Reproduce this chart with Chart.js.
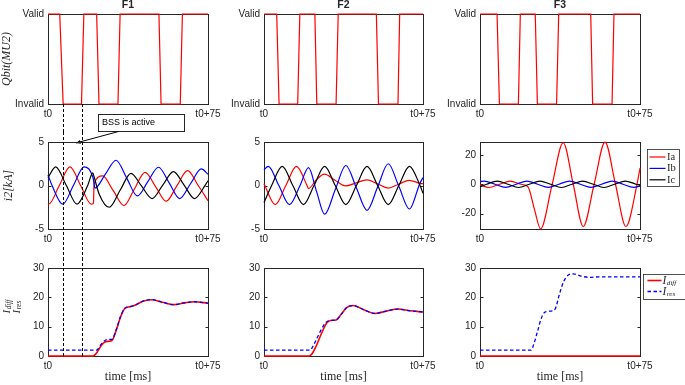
<!DOCTYPE html>
<html>
<head>
<meta charset="utf-8">
<script src="https://cdn.jsdelivr.net/npm/chart.js@4.4.0/dist/chart.umd.min.js"></script>
<style>
  body { margin: 0; background: #fff; width: 685px; height: 385px; position: relative; overflow: hidden; }
  canvas { position: absolute; }
</style>
</head>
<body>
<script>
// ---- axis labels / names ----
const xTicks = [0, 75];
const xTickLabels = ['t0', 't0+75'];
const qbitTicks = [0, 1];
const qbitTickLabels = ['Invalid', 'Valid'];
const kaTicksSmall = [-5, 0, 5];
const kaTicksLarge = [-20, 0, 20];
const resTicks = [0, 10, 20, 30];
const faultNames = ['F1', 'F2', 'F3'];
const phaseNames = ['Ia', 'Ib', 'Ic'];
const diffNames = ['I_{diff}', 'I_{res}'];
const bssWindow = [7.2, 15.8]; // ms, dashed markers under F1

// ---- Qbit(MU2) state, [ms, 1 = Valid / 0 = Invalid] ----
const qbitF1 = [[0,1],[5.5,1],[7.1,0],[15.7,0],[16.8,1],[22.8,1],[23.9,0],[32.8,0],[33.8,1],[52,1],[53,0],[62,0],[63,1],[75,1]];
const qbitF2 = [[0,1],[6,1],[7.1,0],[15.9,0],[16.9,1],[24,1],[24.9,0],[34,0],[35,1],[53,1],[54,0],[63.2,0],[64,1],[75,1]];
const qbitF3 = [[0,1],[8,1],[9.1,0],[18,0],[18.9,1],[25.9,1],[26.9,0],[35.9,0],[36.9,1],[51.9,1],[52.8,0],[61.9,0],[62.8,1],[75,1]];

// ---- i2 [kA], [ms, kA] ----
const f1Ia = [[0,-2.1],[0.3,-2.15],[5.3,0],[10.3,2.15],[15.3,0],[20.3,-2.15],[21.3,-2.05],[21.6,0.2],[25.6,1.1],[30.6,-0.6],[35.6,-2.3],[40.5,-0.4],[45.5,1.5],[50.5,-0.15],[55.4,-1.8],[60.4,-0.05],[65.4,1.7],[70.4,0],[75,-1.75]];
const f1Ib = [[0,1.2],[1.9,0],[6.9,-2.15],[11.9,0],[16.9,2.15],[21.2,0.8],[22,-0.3],[26.9,1.3],[31.9,2.9],[36.9,0.85],[41.9,-1.2],[46.8,0.45],[51.8,2.1],[56.8,0.3],[61.7,-1.5],[66.8,0.2],[71.9,1.9],[75,1.3]];
const f1Ic = [[0,0.9],[3.6,2.15],[8.6,0],[13.6,-2.15],[18.6,0],[21,1.45],[21.6,1.0],[24,-1.0],[28.7,-2.5],[33.8,-0.55],[38.9,1.4],[43.8,-0.05],[48.8,-1.5],[53.8,0.05],[58.8,1.6],[63.8,0.05],[68.7,-1.5],[73.7,0.05],[75,0.55]];

const f2Ia = [[0,0.2],[5.3,-2.2],[10.3,0],[15.3,2.2],[20.3,0],[21,-0.35],[24.5,0.6],[28.5,1.3],[33.5,0.6],[38.5,-0.05],[43.5,0.3],[48.5,0.65],[53.5,0.2],[58.5,-0.3],[63.5,0.15],[68.5,0.6],[73.5,0.25],[75,0.2]];
const f2Ib = [[0,1.8],[2,2.2],[7,0],[12,-2.2],[17,0],[21,2.05],[24.8,-0.7],[28.6,-3.3],[33.6,-0.5],[38.6,2.3],[43.6,-0.28],[48.6,-2.85],[53.6,-0.18],[58.6,2.5],[63.6,-0.1],[68.6,-2.7],[73.6,0.3],[75,0.9]];
const f2Ic = [[0,-1.95],[3.6,0],[8.6,2.2],[13.6,0],[18.6,-2.2],[23.6,0],[28.6,2.2],[33.6,0],[38.6,-2.2],[43.6,0],[48.6,2.2],[53.6,0],[58.6,-2.2],[63.6,0],[68.6,2.2],[73.6,0],[75,-0.9]];

const f3Ia = [[0,-0.4],[4.2,-2.2],[9.2,0],[14.2,2.2],[19.2,0],[22.5,-1.8],[25.5,-17],[28.4,-30.4],[33.7,-1],[39,28.3],[43.7,0],[48.4,-28.8],[53.5,0],[58.6,28.7],[63.5,0],[68.4,-28.8],[73.6,0],[75,11]];
const f3Ib = [[0,1.8],[2,2.2],[7,0],[12,-2.1],[17,0],[22,2.2],[27,0],[32,-2.1],[37,0],[42,2.2],[47,0],[52,-2.1],[57,0],[62,2.2],[67,0],[72,-2.1],[75,-1.3]];
const f3Ic = [[0,-1.8],[3.1,0],[8.1,2.2],[13.1,0],[18.1,-2.2],[23.1,0],[28.1,2.2],[33.1,0],[38.1,-2.2],[43.1,0],[48.1,2.2],[53.1,0],[58.1,-2.2],[63.1,0],[68.1,2.2],[73.1,0],[75,-0.8]];

// ---- Idiff / Ires, [ms, value] ----
const f1Idiff = [[0,0],[21.2,0],[23,1.3],[25,3.6],[26.7,4.8],[28.5,5],[30,5.3],[32,8.8],[34,13.3],[36,16.2],[38.4,16.8],[41,17.4],[44.5,18.7],[48.6,19.2],[53.7,18.3],[58.8,17.5],[63.9,18.1],[68.6,18.5],[75,18]];
const f1Ires = [[0,2],[22.8,2],[24.5,3.6],[26.5,5.2],[27.8,5.6],[30,5.7],[32,9],[34,13.5],[36,16.3],[38.4,16.8],[41,17.4],[44.5,18.7],[48.6,19.2],[53.7,18.3],[58.8,17.5],[63.9,18.1],[68.6,18.5],[75,18]];
const f2Idiff = [[0,0],[21.3,0],[22.5,0.6],[24.5,3.2],[27,7.5],[29.5,11.2],[31.5,12.1],[34,12.3],[36.5,14.3],[39,16.5],[42,17.2],[47,15.8],[52.3,14.5],[57.7,15.3],[63.2,16],[69,15.4],[75,15]];
const f2Ires = [[0,2],[21.7,2],[23.3,3.6],[25.5,6.8],[28,10.3],[30.3,12],[34,12.3],[36.5,14.3],[39,16.5],[42,17.2],[47,15.8],[52.3,14.5],[57.7,15.3],[63.2,16],[69,15.4],[75,15]];
const f3Idiff = [[0,0],[75,0]];
const f3Ires = [[0,2],[23.9,2],[25.2,4],[27,8.5],[28.8,13],[30.5,15],[33,15.3],[35.2,16],[37.2,21],[39.3,25.5],[41.4,27.6],[43.7,28],[47.5,27.2],[51.6,26.8],[56,27],[75,27]];

// ---- styling ----
const INK = '#262626';
const SERIF = '"Liberation Serif", "DejaVu Serif", serif';
const phaseColors = ['#ff0000', '#0000ff', '#000000'];
const diffColors = ['#ff0000', '#0000ff'];
const diffDash = [[], [3.5, 2.5]];
const diffWidths = [1.6, 1.3];

Chart.defaults.font.family = '"Liberation Sans", Arial, sans-serif';
Chart.defaults.font.size = 10;
Chart.defaults.color = INK;

// canvas placement for each column / row
const cols = [
  {left: 0, width: 230, axisW: 48, padR: 22},
  {left: 222, width: 228, axisW: 42, padR: 27},
  {left: 440, width: 245, axisW: 40, padR: 45}
];
const rows = [
  {top: 0, height: 146, padT: 14, xAxisH: 42},
  {top: 132, height: 126, padT: 7, xAxisH: 29},
  {top: 258, height: 127, padT: 7, xAxisH: 29}
];
const legendPhase = {dx: 7, dy: 6.5, w: 32, h: 37, first: 7.5, step: 11.4, l0: 2, l1: 18, tx: 19.5, size: 10.5, italic: false, sub: 0.72};
const legendDiff = {dx: 3, dy: 5.5, w: 42, h: 25, first: 6, step: 11, l0: 4, l1: 18, tx: 19, size: 11.5, italic: true, sub: 0.62};

function mathText(ctx, label, x, y, size, italic, align, subRatio) {
  const m = /^(.*?)_\{(.*)\}$/.exec(label);
  const base = m ? m[1] : label, sub = m ? m[2] : '';
  const st = italic ? 'italic ' : '';
  const fb = st + size + 'px ' + SERIF;
  const fs = st + (size * (subRatio || 0.7)).toFixed(1) + 'px ' + SERIF;
  ctx.font = fb; const wb = ctx.measureText(base).width;
  ctx.font = fs; const ws = sub ? ctx.measureText(sub).width : 0;
  const x0 = align === 'center' ? x - (wb + ws) / 2 : x;
  ctx.textAlign = 'left'; ctx.textBaseline = 'middle';
  ctx.font = fb; ctx.fillText(base, x0, y);
  if (sub) { ctx.font = fs; ctx.fillText(sub, x0 + wb + 0.5, y + size * 0.22); }
}

function seg(ctx, x0, y0, x1, y1) {
  ctx.beginPath(); ctx.moveTo(x0, y0); ctx.lineTo(x1, y1); ctx.stroke();
}

// matlab-like box with inward ticks, under the data
const frame = {
  id: 'frame',
  beforeDatasetsDraw(chart) {
    const {ctx, chartArea: a} = chart;
    const ys = chart.scales.y;
    ctx.save();
    ctx.strokeStyle = INK; ctx.lineWidth = 1;
    const l = Math.round(a.left) + 0.5, t = Math.round(a.top) + 0.5;
    const r = Math.round(a.right) + 0.5, b = Math.round(a.bottom) + 0.5;
    ctx.strokeRect(l, t, r - l, b - t);
    ys.ticks.forEach(tk => {
      const py = Math.round(ys.getPixelForValue(tk.value)) + 0.5;
      seg(ctx, l, py, l + 3, py);
      seg(ctx, r - 3, py, r, py);
    });
    ctx.restore();
  }
};

function deco(spec) {
  return {
    id: 'deco',
    afterDatasetsDraw(chart) {
      if (!spec.marks) return;
      const {ctx, chartArea: a} = chart;
      const y0 = spec.row === 0 ? a.bottom : 0;
      const y1 = spec.row === 0 ? rows[1].top - rows[0].top : (spec.row === 1 ? chart.height : a.bottom);
      ctx.save();
      ctx.strokeStyle = '#000'; ctx.lineWidth = 1; ctx.setLineDash([3, 2]);
      bssWindow.forEach(t => {
        const px = Math.round(chart.scales.x.getPixelForValue(t)) + 0.5;
        seg(ctx, px, y0, px, y1);
      });
      ctx.restore();
    },
    afterDraw(chart) {
      const {ctx, chartArea: a} = chart;
      const mid = (a.top + a.bottom) / 2, cx = (a.left + a.right) / 2;
      ctx.save();
      ctx.fillStyle = INK;
      if (spec.title) {
        ctx.font = 'bold 10.5px "Liberation Sans", Arial, sans-serif';
        ctx.textAlign = 'center'; ctx.textBaseline = 'middle';
        ctx.fillText(spec.title, cx, a.top - 9);
      }
      if (spec.xTitle) {
        ctx.font = '12px ' + SERIF;
        ctx.textAlign = 'center'; ctx.textBaseline = 'middle';
        ctx.fillText(spec.xTitle, cx, a.bottom + 21);
      }
      if (spec.yTitle) {
        const lines = spec.yTitle;
        lines.forEach((txt, i) => {
          ctx.save();
          if (lines.length === 1) {
            ctx.translate(a.left - spec.yTitleOff, mid);
            ctx.rotate(-Math.PI / 2);
            mathText(ctx, txt, 0, 0, 12, true, 'center');
          } else {
            ctx.translate(a.left - 41 + i * 10, mid);
            ctx.rotate(-Math.PI / 2);
            mathText(ctx, txt, -1.5, 0, 11, true, 'left', 0.66);
          }
          ctx.restore();
        });
      }
      if (spec.legend) {
        const L = spec.legend;
        const bx = Math.round(a.right + L.dx) + 0.5, by = Math.round(a.top + L.dy) + 0.5;
        ctx.fillStyle = '#fff'; ctx.fillRect(bx, by, L.w, L.h);
        ctx.strokeStyle = INK; ctx.lineWidth = 0.8; ctx.strokeRect(bx, by, L.w, L.h);
        chart.data.datasets.forEach((d, i) => {
          const yy = by + L.first + i * L.step;
          ctx.strokeStyle = d.borderColor; ctx.lineWidth = d.borderWidth;
          ctx.setLineDash(d.borderDash || []);
          seg(ctx, bx + L.l0, yy, bx + L.l1, yy);
          ctx.setLineDash([]);
          ctx.fillStyle = INK;
          mathText(ctx, d.label, bx + L.tx, yy, L.size, L.italic, 'left', L.sub);
        });
      }
      if (spec.bss) {
        // "BSS is active" call-out with arrow
        const bx = a.left + 50.5, by = a.bottom + 10.5, bw = 86, bh = 17;
        ctx.fillStyle = '#fff'; ctx.fillRect(bx, by, bw, bh);
        ctx.strokeStyle = INK; ctx.lineWidth = 1; ctx.strokeRect(bx, by, bw, bh);
        ctx.fillStyle = '#000';
        ctx.font = '9px "Liberation Sans", Arial, sans-serif';
        ctx.textAlign = 'left'; ctx.textBaseline = 'middle';
        ctx.fillText('BSS is active', bx + 3.5, by + bh / 2);
        const x0 = bx + 20, y0 = by + bh, x1 = a.left + 28, y1 = a.bottom + 39;
        ctx.strokeStyle = '#000'; ctx.lineWidth = 1;
        seg(ctx, x0, y0, x1, y1);
        const ang = Math.atan2(y1 - y0, x1 - x0), hl = 5;
        ctx.beginPath();
        ctx.moveTo(x1, y1);
        ctx.lineTo(x1 - hl * Math.cos(ang - 0.4), y1 - hl * Math.sin(ang - 0.4));
        ctx.lineTo(x1 - hl * Math.cos(ang + 0.4), y1 - hl * Math.sin(ang + 0.4));
        ctx.closePath(); ctx.fill();
      }
      ctx.restore();
    }
  };
}

function makePanel(c, r, spec) {
  const col = cols[c], row = rows[r];
  spec.row = r;
  const cv = document.createElement('canvas');
  cv.width = col.width; cv.height = row.height;
  cv.style.left = col.left + 'px'; cv.style.top = row.top + 'px';
  cv.style.width = col.width + 'px'; cv.style.height = row.height + 'px';
  document.body.appendChild(cv);
  return new Chart(cv, {
    type: 'line',
    data: {
      datasets: spec.datasets.map((d, i) => ({
        label: d.label,
        data: d.data.map(p => ({x: p[0], y: p[1]})),
        borderColor: d.color,
        borderWidth: d.width,
        borderDash: d.dash || [],
        pointRadius: 0,
        fill: false,
        tension: 0,
        cubicInterpolationMode: spec.smooth ? 'monotone' : 'default',
        clip: 2,
        order: -i
      }))
    },
    options: {
      responsive: false,
      animation: false,
      devicePixelRatio: 1,
      events: [],
      layout: {padding: {left: 0, right: col.padR, top: row.padT, bottom: 0}},
      plugins: {legend: {display: false}, tooltip: {enabled: false}},
      scales: {
        x: {
          type: 'linear', min: 0, max: 75,
          afterBuildTicks: s => { s.ticks = xTicks.map(v => ({value: v})); },
          afterFit: s => { s.height = row.xAxisH; },
          ticks: {callback: v => xTickLabels[xTicks.indexOf(v)], autoSkip: false, maxRotation: 0, padding: 4, color: INK},
          grid: {display: false, drawTicks: false},
          border: {display: false}
        },
        y: {
          type: 'linear', min: spec.yMin, max: spec.yMax,
          afterBuildTicks: s => { s.ticks = spec.yTicks.map(v => ({value: v})); },
          afterFit: s => { s.width = col.axisW; },
          ticks: {callback: v => spec.yLabels[spec.yTicks.indexOf(v)], autoSkip: false, padding: 4, color: INK},
          grid: {display: false, drawTicks: false},
          border: {display: false}
        }
      }
    },
    plugins: [frame, deco(spec)]
  });
}

const faults = [
  {name: faultNames[0], qbit: qbitF1, phases: [f1Ia, f1Ib, f1Ic], kaTicks: kaTicksSmall, kaMin: -5, kaMax: 5, diff: [f1Idiff, f1Ires]},
  {name: faultNames[1], qbit: qbitF2, phases: [f2Ia, f2Ib, f2Ic], kaTicks: kaTicksSmall, kaMin: -5, kaMax: 5, diff: [f2Idiff, f2Ires]},
  {name: faultNames[2], qbit: qbitF3, phases: [f3Ia, f3Ib, f3Ic], kaTicks: kaTicksLarge, kaMin: -30.5, kaMax: 28.8, diff: [f3Idiff, f3Ires]}
];

faults.forEach((f, c) => {
  makePanel(c, 0, {
    datasets: [{label: 'Qbit', data: f.qbit, color: '#ff0000', width: 1.2}],
    yMin: 0, yMax: 1, yTicks: qbitTicks, yLabels: qbitTickLabels, smooth: false,
    title: f.name,
    yTitle: c === 0 ? ['Qbit(MU2)'] : null, yTitleOff: 41.5,
    marks: c === 0, bss: c === 0
  });
  makePanel(c, 1, {
    datasets: f.phases.map((p, i) => ({label: phaseNames[i], data: p, color: phaseColors[i], width: 1.2})),
    yMin: f.kaMin, yMax: f.kaMax, yTicks: f.kaTicks, yLabels: f.kaTicks.map(String), smooth: true,
    yTitle: c === 0 ? ['i2[kA]'] : null, yTitleOff: 39,
    legend: c === 2 ? legendPhase : null,
    marks: c === 0
  });
  makePanel(c, 2, {
    datasets: f.diff.map((p, i) => ({label: diffNames[i], data: p, color: diffColors[i], width: diffWidths[i], dash: diffDash[i]})),
    yMin: 0, yMax: 30, yTicks: resTicks, yLabels: resTicks.map(String), smooth: true,
    xTitle: 'time [ms]',
    yTitle: c === 0 ? diffNames : null,
    legend: c === 2 ? legendDiff : null,
    marks: c === 0
  });
});
</script>
</body>
</html>
